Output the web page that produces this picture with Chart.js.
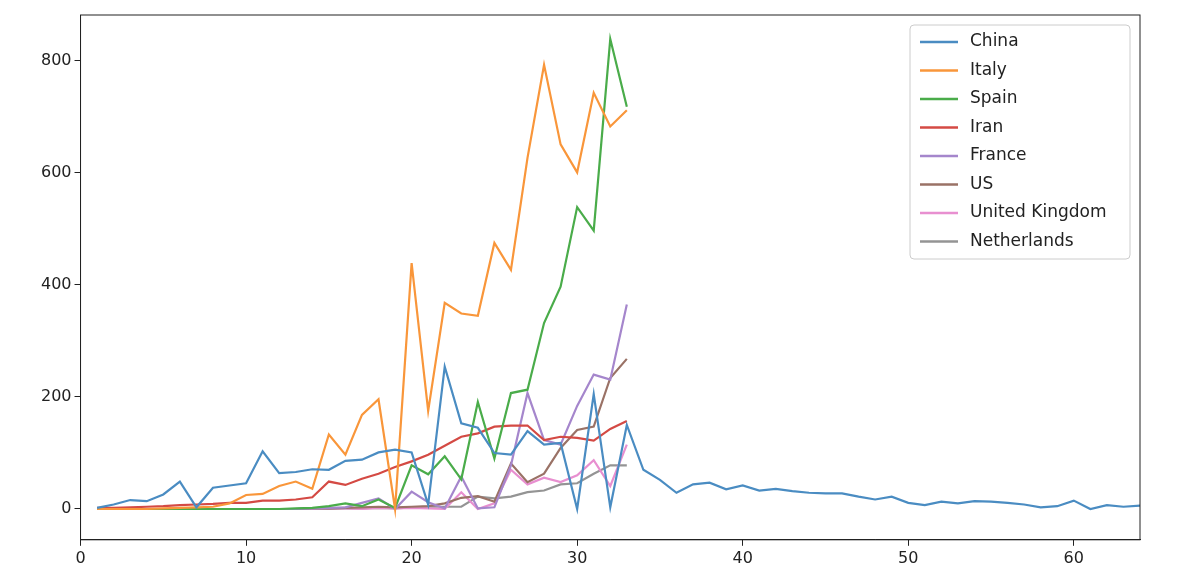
<!DOCTYPE html>
<html lang="en">
<head>
  <meta charset="UTF-8">
  <title>Deaths per day</title>
  <script src="https://cdn.jsdelivr.net/npm/chart.js"></script>
  <style>
    body { margin: 0; background: #fff; }
    #wrap { width: 1200px; height: 586px; }
  </style>
</head>
<body>
  <div id="wrap"><canvas id="chart"></canvas></div>
  <script>
    const days = Array.from({ length: 64 }, (_, i) => i + 1);
    const xTicks = [0, 10, 20, 30, 40, 50, 60];
    const yTicks = [0, 200, 400, 600, 800];

    const china = [2, 8, 16, 14, 26, 49, 3, 38, 42, 46, 103, 64, 66, 71, 70, 86, 88, 101, 106, 101,
      8, 254, 153, 145, 100, 97, 139, 115, 118, 0, 205, 3, 150, 70, 52, 29, 44, 47, 35, 42,
      33, 36, 32, 29, 28, 28, 22, 17, 22, 11, 7, 13, 10, 14, 13, 11, 8, 3, 5, 15, 0, 7, 4, 6];
    const italy = [0, 0, 0, 0, 1, 2, 3, 4, 10, 25, 27, 41, 49, 36, 133, 97, 168, 196, 0, 439,
      175, 368, 349, 345, 475, 427, 627, 793, 651, 601, 743, 683, 712];
    const spain = [0, 0, 0, 0, 0, 0, 0, 0, 0, 0, 0, 0, 1, 2, 5, 10, 5, 17, 2, 78,
      62, 94, 53, 191, 90, 207, 213, 332, 397, 539, 497, 839, 718];
    const iran = [2, 2, 3, 4, 5, 7, 8, 9, 11, 11, 15, 15, 17, 21, 49, 43, 54, 63, 75, 85,
      97, 113, 129, 135, 147, 149, 149, 123, 129, 127, 122, 143, 157];
    const france = [0, 0, 0, 0, 0, 0, 0, 0, 0, 0, 0, 0, 0, 1, 2, 3, 11, 19, 0, 31,
      12, 1, 58, 1, 3, 78, 207, 123, 115, 184, 240, 231, 365];
    const us = [0, 0, 0, 0, 0, 0, 0, 0, 0, 0, 0, 0, 0, 1, 1, 2, 3, 4, 3, 4,
      5, 10, 20, 23, 13, 81, 48, 63, 109, 141, 147, 234, 268];
    const uk = [0, 0, 0, 0, 0, 0, 0, 0, 0, 0, 0, 0, 0, 0, 1, 1, 0, 2, 1, 2,
      1, 0, 30, 0, 10, 70, 44, 56, 48, 60, 87, 41, 115];
    const netherlands = [0, 0, 0, 0, 0, 0, 0, 0, 0, 0, 0, 0, 0, 0, 0, 1, 1, 2, 1, 3,
      4, 4, 4, 22, 19, 22, 30, 33, 44, 46, 63, 78, 78];

    const series = [
      ['China', china, '#4a8cc2'],
      ['Italy', italy, '#f9963a'],
      ['Spain', spain, '#4aac4a'],
      ['Iran', iran, '#d44a44'],
      ['France', france, '#a586cc'],
      ['US', us, '#9a7266'],
      ['United Kingdom', uk, '#e88fd0'],
      ['Netherlands', netherlands, '#949494']
    ];

    // matplotlib-style legend box in the upper right corner
    const boxLegend = {
      id: 'boxLegend',
      afterDraw(chart) {
        const ctx = chart.ctx, a = chart.chartArea;
        const w = 220, h = 234, x = a.right - w - 10, y = a.top + 10;
        ctx.save();
        ctx.fillStyle = 'rgba(255,255,255,0.85)';
        ctx.strokeStyle = '#cccccc';
        ctx.lineWidth = 1;
        ctx.beginPath();
        ctx.roundRect(x, y, w, h, 4);
        ctx.fill();
        ctx.stroke();
        ctx.font = '17px "DejaVu Sans"';
        ctx.textBaseline = 'middle';
        chart.data.datasets.forEach((ds, i) => {
          const cy = y + 17 + i * 28.5;
          ctx.strokeStyle = ds.borderColor;
          ctx.lineWidth = 2.5;
          ctx.beginPath();
          ctx.moveTo(x + 10, cy);
          ctx.lineTo(x + 48, cy);
          ctx.stroke();
          ctx.fillStyle = '#222';
          ctx.fillText(ds.label, x + 60, cy);
        });
        ctx.restore();
      }
    };

    new Chart(document.getElementById('chart'), {
      type: 'line',
      data: {
        datasets: series.map(([label, vals, color]) => ({
          label: label,
          data: vals.map((v, i) => ({ x: days[i], y: v })),
          borderColor: color,
          borderWidth: 2.2,
          pointRadius: 0,
          tension: 0,
          fill: false
        }))
      },
      options: {
        responsive: true,
        maintainAspectRatio: false,
        animation: false,
        layout: { padding: { left: 38, right: 60, top: 15, bottom: 15 } },
        plugins: { legend: { display: false }, tooltip: { enabled: false } },
        scales: {
          x: {
            type: 'linear', min: 0, max: 64,
            afterBuildTicks(axis) { axis.ticks = xTicks.map(v => ({ value: v })); },
            ticks: { color: '#222', font: { size: 16, family: 'DejaVu Sans' } },
            grid: { drawOnChartArea: false, tickLength: 6, color: '#222' },
            border: { color: '#222' }
          },
          y: {
            min: -55, max: 882,
            afterBuildTicks(axis) { axis.ticks = yTicks.map(v => ({ value: v })); },
            ticks: { color: '#222', font: { size: 16, family: 'DejaVu Sans' } },
            grid: { drawOnChartArea: false, tickLength: 6, color: '#222' },
            border: { color: '#222' }
          }
        }
      },
      plugins: [boxLegend, {
        id: 'frame',
        afterDraw(chart) {
          const ctx = chart.ctx, a = chart.chartArea;
          ctx.save();
          ctx.strokeStyle = '#222';
          ctx.lineWidth = 1;
          ctx.strokeRect(a.left, a.top, a.right - a.left, a.bottom - a.top);
          ctx.restore();
        }
      }]
    });
  </script>
</body>
</html>
